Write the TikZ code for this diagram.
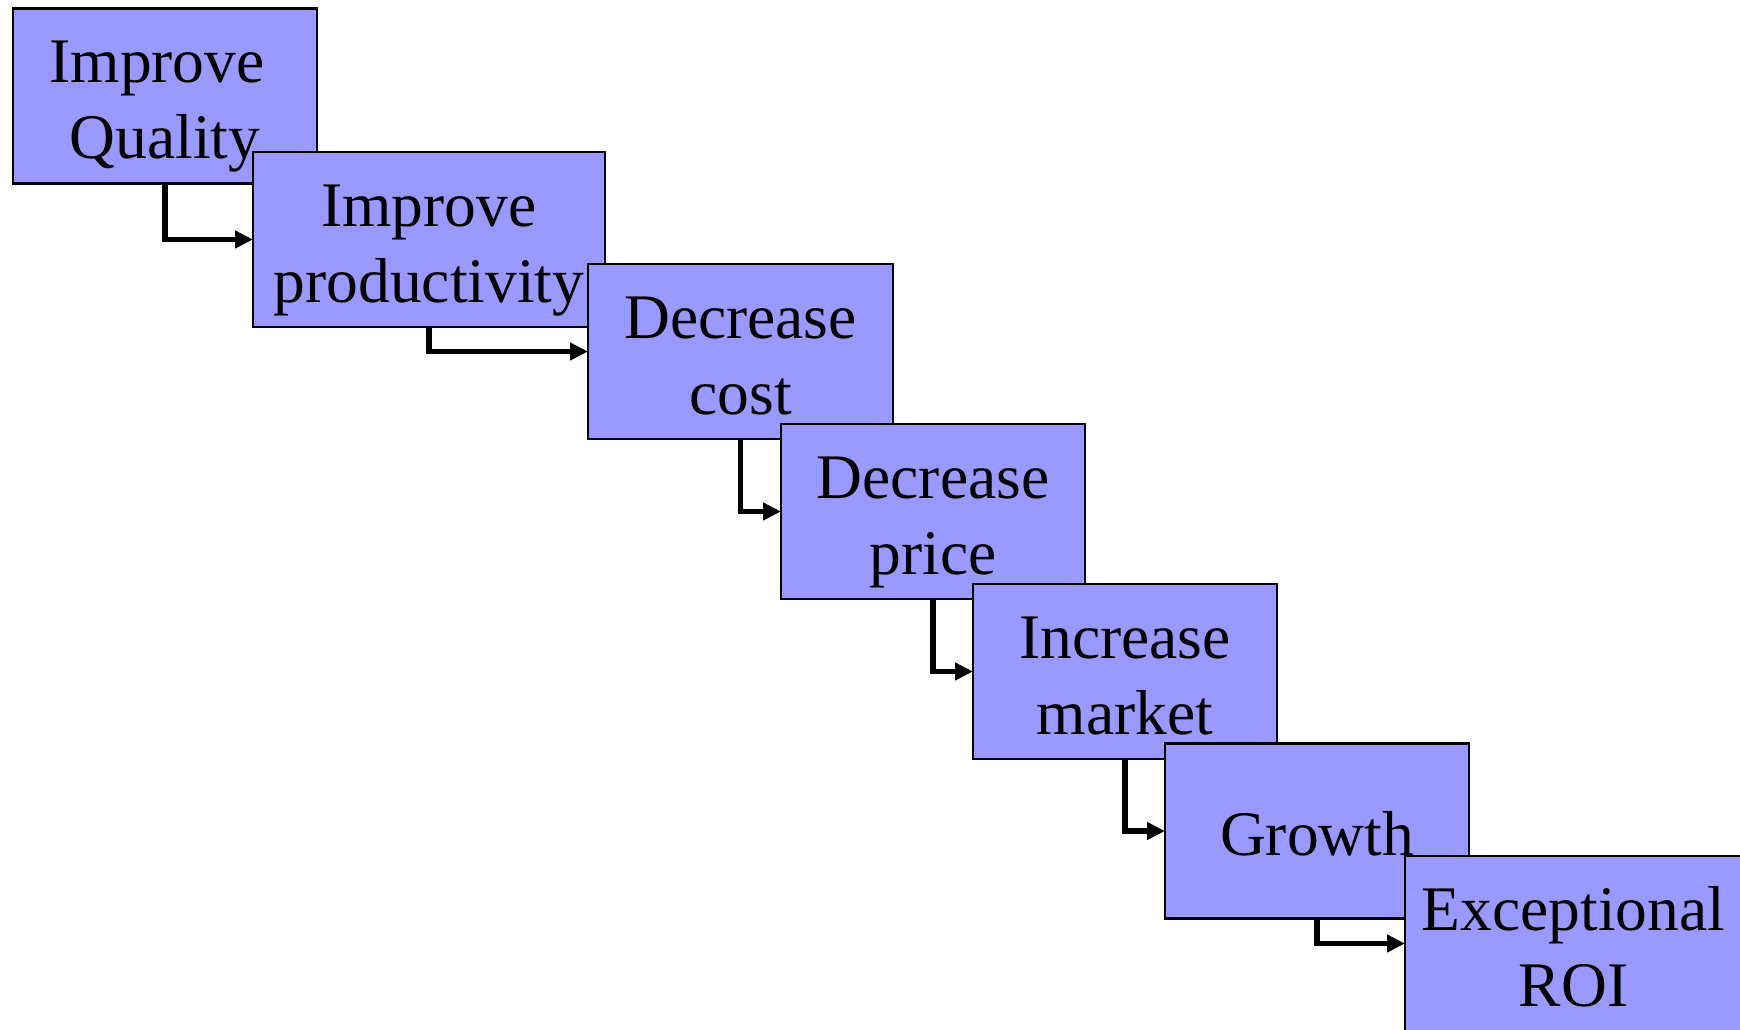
\documentclass[tikz,border=0pt]{standalone}
\usepackage{fontspec}
\setmainfont{Liberation Serif}
\usetikzlibrary{arrows.meta}
\definecolor{boxfill}{RGB}{153,153,255}
\newcommand{\twolines}[2]{\rule{0pt}{50pt}#1\\#2\rule[-50pt]{0pt}{50pt}}
\newcommand{\oneline}[1]{\rule[-50pt]{0pt}{100pt}#1}
\begin{document}
\begin{tikzpicture}[x=1pt,y=-1pt,
 stagebox/.style={draw=black, line width=2.5pt, fill=boxfill, minimum height=175pt, inner sep=0pt, outer sep=0pt},
 stagetext/.style={font=\fontsize{63.5}{76}\selectfont, align=center, inner sep=0pt, yshift=-24.5pt},
 flow/.style={draw=black, line width=5.5pt, -{Triangle[length=18pt,width=17pt]}}]
\useasboundingbox (0,0) rectangle (1740,1029);
\clip (0,0) rectangle (1740,1029);
% boxes
\node[stagebox, minimum width=304pt] (b1) at (165,96) {};
\node[stagebox, minimum width=352pt] (b2) at (429,239.5) {};
\node[stagebox, minimum width=305pt] (b3) at (740.5,351.5) {};
\node[stagebox, minimum width=304pt] (b4) at (933,511.5) {};
\node[stagebox, minimum width=304pt] (b5) at (1125,671.5) {};
\node[stagebox, minimum width=304pt] (b6) at (1317,831) {};
\node[stagebox, minimum width=337pt] (b7) at (1573.5,943.5) {};
% connectors
\draw[flow] (b1.south) |- (b2.west);
\draw[flow] (b2.south) |- (b3.west);
\draw[flow] (b3.south) |- (b4.west);
\draw[flow] (b4.south) |- (b5.west);
\draw[flow] (b5.south) |- (b6.west);
\draw[flow] (b6.south) |- (b7.west);
% labels
\node[stagetext] (t1) at (b1.center) {\twolines{Improve\kern0.25em}{Quality}};
\node[stagetext] (t2) at (b2.center) {\twolines{Improve}{productivity}};
\node[stagetext] (t3) at (b3.center) {\twolines{Decrease}{cost}};
\node[stagetext] (t4) at (b4.center) {\twolines{Decrease}{price}};
\node[stagetext] (t5) at (b5.center) {\twolines{Increase}{market}};
\node[stagetext] (t6) at (b6.center) {\oneline{Growth}};
\node[stagetext] (t7) at (b7.center) {\twolines{Exceptional}{ROI}};
\end{tikzpicture}
\end{document}
